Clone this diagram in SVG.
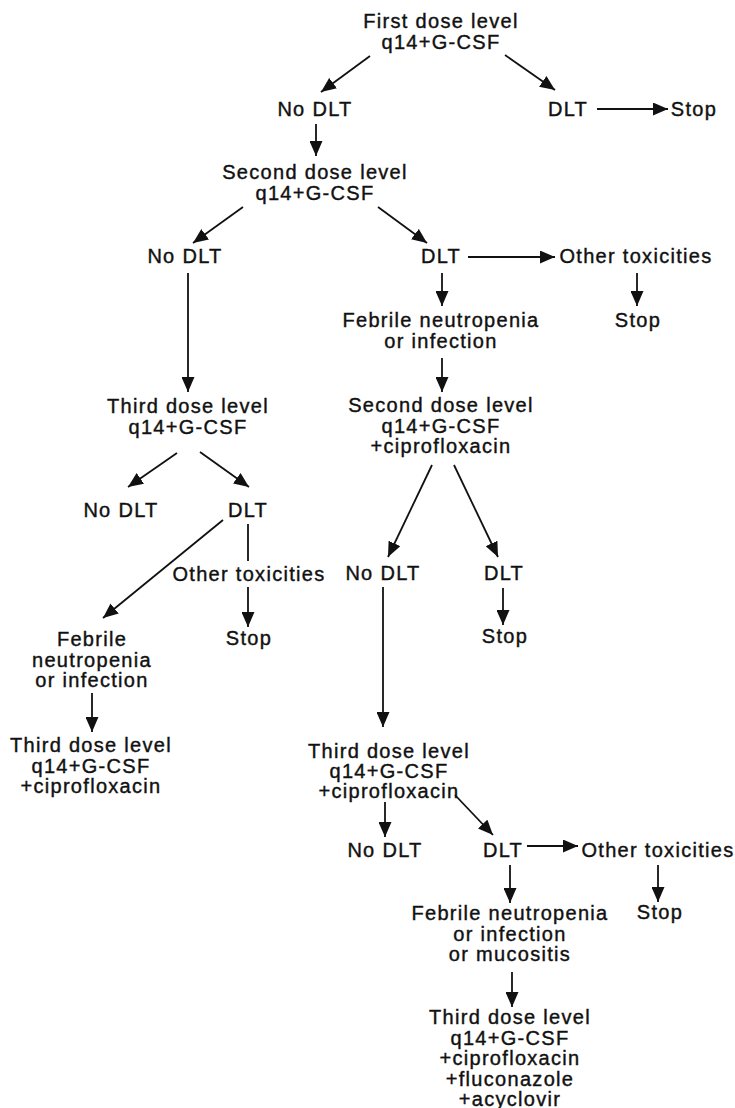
<svg xmlns="http://www.w3.org/2000/svg" width="735" height="1108" viewBox="0 0 735 1108">
<style>
text{font-family:"Liberation Sans",Arial,sans-serif;font-size:20px;letter-spacing:1.3px;fill:#111;stroke:#111;stroke-width:0.4;text-anchor:middle}
.c line{stroke:#111;stroke-width:1.8;fill:none}
.a{marker-end:url(#ah)}
</style>
<defs>
<marker id="ah" viewBox="0 0 15 13" refX="15" refY="6.5" markerWidth="15" markerHeight="13" markerUnits="userSpaceOnUse" orient="auto">
<path d="M0,0 L15,6.5 L0,13 Z" fill="#111"/>
</marker>
</defs>
<rect width="735" height="1108" fill="#fff"/>
<g id="n1"><text x="441" y="28">First dose level</text><text x="441" y="48.5">q14+G-CSF</text></g>
<g id="n2"><text x="315" y="116">No DLT</text></g>
<g id="n3"><text x="568" y="116">DLT</text></g>
<g id="n4"><text x="694" y="116">Stop</text></g>
<g id="n5"><text x="315" y="179">Second dose level</text><text x="315" y="199.5">q14+G-CSF</text></g>
<g id="n6"><text x="185" y="263">No DLT</text></g>
<g id="n7"><text x="441" y="263">DLT</text></g>
<g id="n8"><text x="636" y="263">Other toxicities</text></g>
<g id="n9"><text x="638" y="327">Stop</text></g>
<g id="n10"><text x="441" y="327">Febrile neutropenia</text><text x="441" y="347.5">or infection</text></g>
<g id="n11"><text x="441" y="412">Second dose level</text><text x="441" y="432.5">q14+G-CSF</text><text x="441" y="453">+ciprofloxacin</text></g>
<g id="n12"><text x="188" y="413">Third dose level</text><text x="188" y="433.5">q14+G-CSF</text></g>
<g id="n13"><text x="121" y="517">No DLT</text></g>
<g id="n14"><text x="248" y="517">DLT</text></g>
<g id="n15"><text x="249" y="581">Other toxicities</text></g>
<g id="n16"><text x="249" y="645">Stop</text></g>
<g id="n17"><text x="92" y="646">Febrile</text><text x="92" y="666.5">neutropenia</text><text x="92" y="687">or infection</text></g>
<g id="n18"><text x="91" y="752">Third dose level</text><text x="91" y="772.5">q14+G-CSF</text><text x="91" y="793">+ciprofloxacin</text></g>
<g id="n19"><text x="383" y="580">No DLT</text></g>
<g id="n20"><text x="504" y="580">DLT</text></g>
<g id="n21"><text x="505" y="643">Stop</text></g>
<g id="n22"><text x="389" y="758">Third dose level</text><text x="389" y="778">q14+G-CSF</text><text x="389" y="798">+ciprofloxacin</text></g>
<g id="n23"><text x="385" y="857">No DLT</text></g>
<g id="n24"><text x="503" y="857">DLT</text></g>
<g id="n25"><text x="658" y="857">Other toxicities</text></g>
<g id="n26"><text x="660" y="919">Stop</text></g>
<g id="n27"><text x="510" y="920">Febrile neutropenia</text><text x="510" y="940.5">or infection</text><text x="510" y="961">or mucositis</text></g>
<g id="n28"><text x="510" y="1024">Third dose level</text><text x="510" y="1044.5">q14+G-CSF</text><text x="510" y="1065">+ciprofloxacin</text><text x="510" y="1085.5">+fluconazole</text><text x="510" y="1106">+acyclovir</text></g>
<g id="connectors" class="c">
<line class="a" x1="370" y1="56" x2="321" y2="92"/>
<line class="a" x1="505" y1="55" x2="555" y2="90"/>
<line class="a" x1="597" y1="109" x2="668" y2="109"/>
<line class="a" x1="316" y1="124" x2="316" y2="156"/>
<line class="a" x1="243" y1="207" x2="193" y2="243"/>
<line class="a" x1="378" y1="207" x2="427" y2="243"/>
<line class="a" x1="468" y1="257" x2="555" y2="257"/>
<line class="a" x1="442" y1="273" x2="442" y2="306"/>
<line class="a" x1="637" y1="273" x2="637" y2="306"/>
<line class="a" x1="442" y1="358" x2="442" y2="392"/>
<line class="a" x1="432" y1="465" x2="388" y2="557"/>
<line class="a" x1="454" y1="465" x2="498" y2="557"/>
<line class="a" x1="503" y1="588" x2="503" y2="625"/>
<line class="a" x1="383" y1="587" x2="383" y2="727"/>
<line class="a" x1="188" y1="273" x2="188" y2="392"/>
<line class="a" x1="177" y1="453" x2="128" y2="487"/>
<line class="a" x1="200" y1="452" x2="249" y2="487"/>
<line class="a" x1="223" y1="520" x2="103" y2="618"/>
<line x1="248" y1="524" x2="248" y2="561"/>
<line class="a" x1="248" y1="587" x2="248" y2="627"/>
<line class="a" x1="92" y1="693" x2="92" y2="732"/>
<line class="a" x1="385" y1="802" x2="385" y2="837"/>
<line class="a" x1="455" y1="795" x2="493" y2="835"/>
<line class="a" x1="527" y1="846" x2="578" y2="846"/>
<line class="a" x1="658" y1="865" x2="658" y2="902"/>
<line class="a" x1="510" y1="865" x2="510" y2="903"/>
<line class="a" x1="512" y1="972" x2="512" y2="1007"/>
</g>
</svg>
